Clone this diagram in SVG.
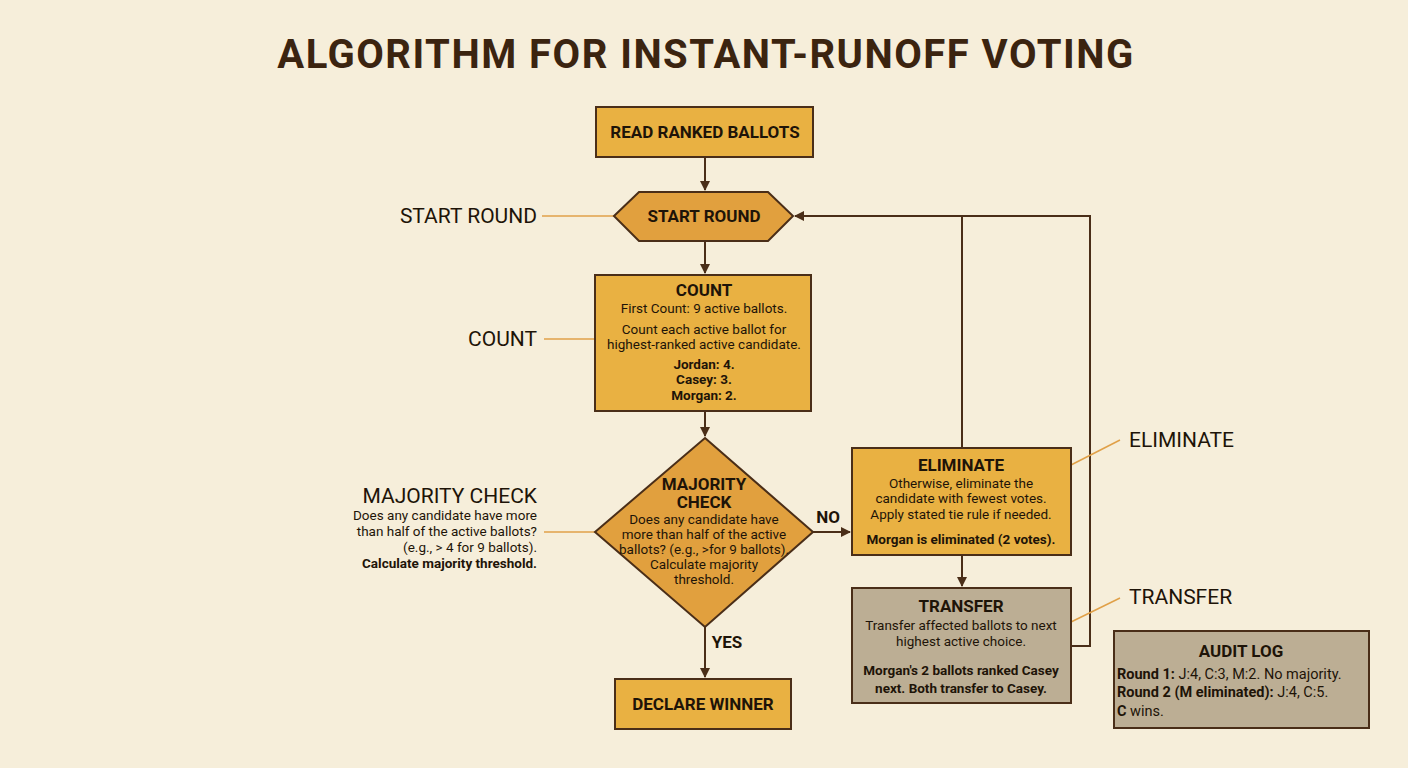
<svg xmlns="http://www.w3.org/2000/svg" width="1408" height="768" viewBox="0 0 1408 768">
<defs>
<marker id="ah" markerWidth="10" markerHeight="10" refX="9" refY="5" orient="auto" markerUnits="userSpaceOnUse"><path d="M0,0 L10,5 L0,10 z" fill="#4a2e18"/></marker>
<style>
text{font-family:Roboto,"Liberation Sans",sans-serif;fill:#1e1408;text-anchor:middle}
.t{font-weight:bold;font-size:17px}
.b{font-size:13.5px}
.bb{font-size:13.5px;font-weight:bold}
.lab{font-size:21px;text-anchor:end}
.box{fill:#E9B142;stroke:#4a2e18;stroke-width:2}
.dk{fill:#E1A03E;stroke:#4a2e18;stroke-width:2}
.gr{fill:#BCAE94;stroke:#4a2e18;stroke-width:2}
.c{stroke:#4a2e18;stroke-width:2;fill:none}
.l{stroke:#E0A048;stroke-width:1.5;fill:none}
</style>
</defs>
<rect width="1408" height="768" fill="#F6EEDA"/>
<text x="706" y="68" style="font-size:40px;font-weight:bold;fill:#3b2410;letter-spacing:1.5px">ALGORITHM FOR INSTANT-RUNOFF VOTING</text>
<g id="connectors">
<path class="c" d="M705,157 V190" marker-end="url(#ah)"/>
<path class="c" d="M705,241 V273" marker-end="url(#ah)"/>
<path class="c" d="M705,411 V436" marker-end="url(#ah)"/>
<path class="c" d="M705,627 V677" marker-end="url(#ah)"/>
<path class="c" d="M813,532 H850" marker-end="url(#ah)"/>
<path class="c" d="M962,555 V586" marker-end="url(#ah)"/>
<path class="c" d="M962,448 V216"/>
<path class="c" d="M1071,646 H1090 V216 H795" marker-end="url(#ah)"/>
<text x="828" y="523" class="t">NO</text>
<text x="727" y="648" class="t">YES</text>
<path class="l" d="M542,216 H614"/>
<path class="l" d="M544,339 H595"/>
<path class="l" d="M544,532 H595"/>
<path class="l" d="M1071,465 L1120,440"/>
<path class="l" d="M1071,622 L1120,598"/>
<text x="537" y="223" class="lab">START ROUND</text>
<text x="537" y="346" class="lab">COUNT</text>
<text x="537" y="503" class="lab">MAJORITY CHECK</text>
<text x="537" y="520" style="font-size:13.5px;text-anchor:end">Does any candidate have more</text>
<text x="537" y="536" style="font-size:13.5px;text-anchor:end">than half of the active ballots?</text>
<text x="537" y="552" style="font-size:13.5px;text-anchor:end">(e.g., &gt; 4 for 9 ballots).</text>
<text x="537" y="568" style="font-size:13.5px;font-weight:bold;text-anchor:end">Calculate majority threshold.</text>
<text x="1129" y="447" style="font-size:21px;text-anchor:start">ELIMINATE</text>
<text x="1129" y="604" style="font-size:21px;text-anchor:start">TRANSFER</text>
</g>
<g id="read"><rect class="box" x="596" y="107" width="217" height="50"/><text x="705" y="138" class="t">READ RANKED BALLOTS</text></g>
<g id="start"><polygon class="dk" points="614,216 639,192 768,192 793,216 768,241 639,241"/><text x="704" y="222" class="t">START ROUND</text></g>
<g id="count"><rect class="box" x="595" y="275" width="216" height="136"/>
<text x="704" y="296" class="t">COUNT</text>
<text x="704" y="313" class="b">First Count: 9 active ballots.</text>
<text x="704" y="334" class="b">Count each active ballot for</text>
<text x="704" y="349" class="b">highest-ranked active candidate.</text>
<text x="704" y="369" class="bb">Jordan: 4.</text>
<text x="704" y="384" class="bb">Casey: 3.</text>
<text x="704" y="400" class="bb">Morgan: 2.</text></g>
<g id="majority"><polygon class="dk" points="705,438 813,532 705,627 595,532"/>
<text x="704" y="490" class="t">MAJORITY</text>
<text x="704" y="508" class="t">CHECK</text>
<text x="704" y="524" class="b">Does any candidate have</text>
<text x="704" y="539" class="b">more than half of the active</text>
<text x="704" y="554" class="b">ballots? (e.g., &gt;for 9 ballots).</text>
<text x="704" y="569" class="b">Calculate majority</text>
<text x="704" y="584" class="b">threshold.</text></g>
<g id="declare"><rect class="box" x="615" y="679" width="176" height="50"/><text x="703" y="710" class="t">DECLARE WINNER</text></g>
<g id="eliminate"><rect class="box" x="852" y="448" width="219" height="107"/>
<text x="961" y="471" class="t">ELIMINATE</text>
<text x="961" y="488" class="b">Otherwise, eliminate the</text>
<text x="961" y="503" class="b">candidate with fewest votes.</text>
<text x="961" y="519" class="b">Apply stated tie rule if needed.</text>
<text x="961" y="544" class="bb">Morgan is eliminated (2 votes).</text></g>
<g id="transfer"><rect class="gr" x="852" y="588" width="219" height="115"/>
<text x="961" y="612" class="t">TRANSFER</text>
<text x="961" y="630" class="b">Transfer affected ballots to next</text>
<text x="961" y="646" class="b">highest active choice.</text>
<text x="961" y="675" class="bb">Morgan's 2 ballots ranked Casey</text>
<text x="961" y="693" class="bb">next. Both transfer to Casey.</text></g>
<g id="audit"><rect class="gr" x="1114" y="631" width="255" height="97"/>
<text x="1241" y="657" class="t">AUDIT LOG</text>
<text x="1117" y="679" style="font-size:14.5px;text-anchor:start"><tspan font-weight="bold">Round 1:</tspan> J:4, C:3, M:2. No majority.</text>
<text x="1117" y="697" style="font-size:14.5px;text-anchor:start"><tspan font-weight="bold">Round 2 (M eliminated):</tspan> J:4, C:5.</text>
<text x="1117" y="716" style="font-size:14.5px;text-anchor:start"><tspan font-weight="bold">C</tspan> wins.</text></g>
</svg>
